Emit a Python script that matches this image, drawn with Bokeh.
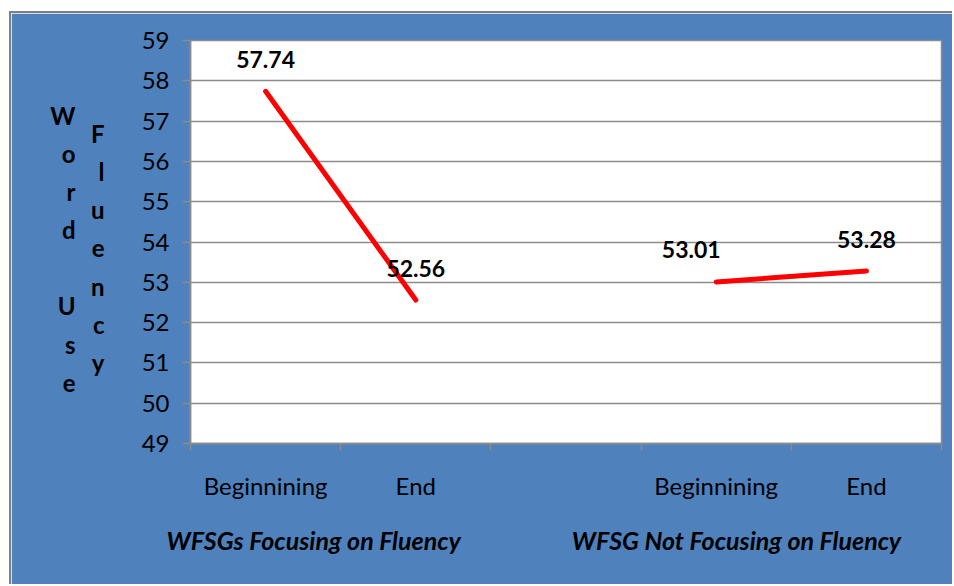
from bokeh.plotting import figure
from bokeh.models import Range1d, FixedTicker, LinearAxis
from bokeh.core.properties import value
from bokeh.embed import file_html
from bokeh.resources import INLINE

# ---- data ----
categories = ["Beginnining", "End", "", "Beginnining", "End"]
group_names = ["WFSGs Focusing on Fluency", "WFSG Not Focusing on Fluency"]
focusing_values = [57.74, 52.56]
not_focusing_values = [53.01, 53.28]
y_ticks = list(range(49, 60))
y_title_col1 = "Word Use"
y_title_col2 = "Fluency"

BLUE = "#4F81BD"
GRID = "#8C8C8C"
EDGE = "#7F7F7F"
FONT = "Lato"
MX, MY, BW = 9, 11, 2  # white margin and grey border before the blue chart area
OX, OY = MX + BW, MY + BW

p = figure(width=954 - OX, height=586 - OY, output_backend="svg", toolbar_location=None,
           x_range=Range1d(0, len(categories)), y_range=Range1d(49, 59),
           min_border_left=190 - OX, min_border_right=13, min_border_top=40 - OY,
           min_border_bottom=143)
p.styles = {"margin-left": f"{MX}px", "margin-top": f"{MY}px",
            "border-left": f"{BW}px solid {EDGE}", "border-top": f"{BW}px solid {EDGE}"}
p.border_fill_color = BLUE
p.background_fill_color = "white"
p.outline_line_color = GRID
p.outline_line_width = 1.5

# y axis
p.yaxis.ticker = FixedTicker(ticks=y_ticks, minor_ticks=[])
p.yaxis.axis_line_color = GRID
p.yaxis.axis_line_width = 1.5
p.yaxis.major_tick_line_color = GRID
p.yaxis.major_tick_line_width = 1.5
p.yaxis.major_tick_out = 8
p.yaxis.major_tick_in = 0
p.yaxis.major_label_standoff = 13
p.yaxis.major_label_text_font = FONT
p.yaxis.major_label_text_font_size = "24px"
p.yaxis.major_label_text_color = "black"
p.ygrid.ticker = FixedTicker(ticks=y_ticks)
p.ygrid.grid_line_color = GRID
p.ygrid.grid_line_width = 1.5
p.xgrid.grid_line_color = None

# x axis: labels at category centres, tick marks at boundaries
cat_pos = [i + 0.5 for i, c in enumerate(categories) if c]
bounds = list(range(len(categories) + 1))
p.xaxis.ticker = FixedTicker(ticks=cat_pos, minor_ticks=bounds)
p.xaxis.major_label_overrides = {i + 0.5: c for i, c in enumerate(categories) if c}
p.xaxis.axis_line_color = GRID
p.xaxis.axis_line_width = 1.5
p.xaxis.major_tick_out = 0
p.xaxis.major_tick_in = 0
p.xaxis.minor_tick_out = 7
p.xaxis.minor_tick_in = 0
p.xaxis.minor_tick_line_color = GRID
p.xaxis.minor_tick_line_width = 1.5
p.xaxis.major_label_standoff = 20
p.xaxis.major_label_text_font = FONT
p.xaxis.major_label_text_font_size = "24px"
p.xaxis.major_label_text_color = "black"


def text_axis(ticks, labels, standoff, style, size):
    ax = LinearAxis(ticker=FixedTicker(ticks=ticks, minor_ticks=[]),
                    major_label_overrides=dict(zip(ticks, labels)))
    ax.axis_line_color = None
    ax.major_tick_line_color = None
    ax.minor_tick_line_color = None
    ax.major_tick_out = 0
    ax.major_tick_in = 0
    ax.minor_tick_out = 0
    ax.major_label_standoff = standoff
    ax.major_label_text_font = FONT
    ax.major_label_text_font_style = style
    ax.major_label_text_font_size = size
    ax.major_label_text_color = "black"
    return ax


# group labels below the category labels
group_x = [0.82, 3.635]
p.add_layout(text_axis(group_x, group_names, 22, "bold italic", "25px"), "below")

# stacked-letter y axis title (two columns)
step = 38.1 / 40.3
c2 = [(56.69 - i * step, ch) for i, ch in enumerate(y_title_col2)]
p.add_layout(text_axis([round(t, 3) for t, _ in c2], [ch for _, ch in c2], 34, "bold", "24px"), "left")
c1 = [(57.14 - i * step, ch) for i, ch in enumerate(y_title_col1) if ch.strip()]
p.add_layout(text_axis([round(t, 3) for t, _ in c1], [ch for _, ch in c1], 12, "bold", "24px"), "left")

# lines
x1 = [0.5, 1.5]
x2 = [3.5, 4.5]
p.line(x1, focusing_values, line_color="red", line_width=5, line_cap="round")
p.line(x2, not_focusing_values, line_color="red", line_width=5, line_cap="round")

# value labels
xs = x1 + x2
vals = focusing_values + not_focusing_values
p.text(xs, vals, text=[f"{v:.2f}" for v in vals], x_offset=[0, 0, -25, 0], y_offset=-32,
       text_align="center", text_baseline="middle", text_font=value(FONT),
       text_font_style="bold", text_font_size="23px", text_color="black")

open("out.html", "w").write(file_html(p, INLINE))
